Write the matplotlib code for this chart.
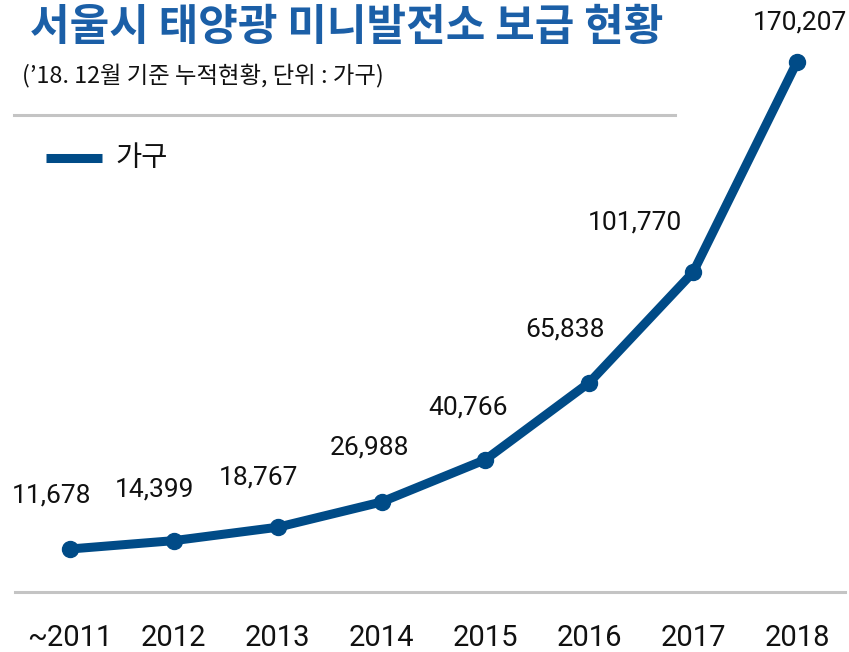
import matplotlib
matplotlib.use("Agg")
import matplotlib.pyplot as plt
from matplotlib.lines import Line2D

categories = ["~2011", "2012", "2013", "2014", "2015", "2016", "2017", "2018"]
values = [11678, 14399, 18767, 26988, 40766, 65838, 101770, 170207]
value_labels = ["11,678", "14,399", "18,767", "26,988", "40,766", "65,838", "101,770", "170,207"]
series_name = "가구"
title = "서울시 태양광 미니발전소 보급 현황"
subtitle = "(’18. 12월 기준 누적현황, 단위 : 가구)"

# label offsets in pixels (dx, dy) relative to the point
label_offsets = [(-18, 54), (-19, 51), (-19, 50), (-12, 54), (-17, 52), (-24, 53), (-58, 50), (3, 40)]

LINE = "#004b87"
TITLE = "#1b5fa7"
GRAY = "#c4c4c4"

W, H = 849, 652
fig = plt.figure(figsize=(W / 100, H / 100), dpi=100)
left_px, right_px, bottom_px, top_px = 15, 845, 592, 0
ax = fig.add_axes([left_px / W, 1 - bottom_px / H, (right_px - left_px) / W, (bottom_px - top_px) / H])

x = list(range(len(categories)))
ax.plot(x, values, color=LINE, lw=6.5, marker="o", ms=11.5, solid_capstyle="round", zorder=3)

# axis limits: index 0 -> 70px, index 7 -> 797px
unit = (797 - 70) / 7
ax.set_xlim(-(70 - left_px) / unit, 7 + (right_px - 797) / unit)
scale = (549 - 62) / (170207 - 11678)
ax.set_ylim(11678 - (bottom_px - 549) / scale, 11678 + (549 - top_px) / scale)

for s in ["top", "right", "left"]:
    ax.spines[s].set_visible(False)
ax.spines["bottom"].set_color(GRAY)
ax.spines["bottom"].set_linewidth(2.2)
ax.set_yticks([])
ax.set_xticks(x)
ax.set_xticklabels(categories, fontsize=21, family=["Roboto", "DejaVu Sans"], fontweight="normal",
                   color="#111111")
ax.tick_params(axis="x", length=0, pad=23)

for xi, v, lab, (dx, dy) in zip(x, values, value_labels, label_offsets):
    ax.annotate(lab, (xi, v), xytext=(dx * 0.72, dy * 0.72), textcoords="offset points",
                ha="center", va="center", fontsize=19, family=["Roboto", "DejaVu Sans"], color="#111111")

fig.text(30 / W, 1 - 27 / H, title, fontsize=31, fontweight="bold", color=TITLE,
         family=["Noto Sans CJK KR"], ha="left", va="center")
fig.text(22 / W, 1 - 76 / H, subtitle, fontsize=16.8, color="#111111",
         family=["Noto Sans CJK KR", "DejaVu Sans"], ha="left", va="center")

fig.add_artist(Line2D([14 / W, 675 / W], [1 - 115 / H, 1 - 115 / H], color=GRAY, lw=2.2))

# legend
fig.add_artist(Line2D([46 / W, 102 / W], [1 - 158 / H, 1 - 158 / H], color=LINE, lw=6.5,
                      solid_capstyle="butt"))
fig.text(115 / W, 1 - 158 / H, series_name, fontsize=20.5, color="#111111",
         family=["Noto Sans CJK KR"], ha="left", va="center")

fig.savefig("out.png", dpi=100, facecolor="white")
